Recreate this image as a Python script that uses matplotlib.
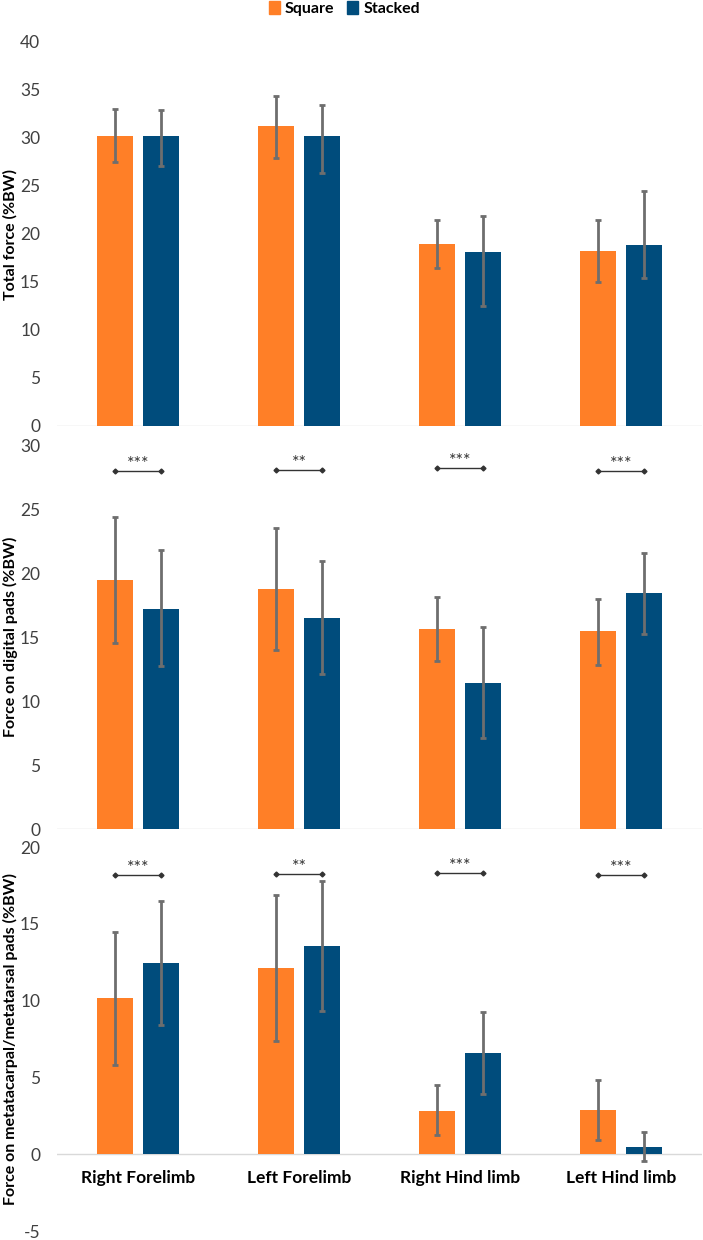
import numpy as np
from matplotlib import pyplot as plt
from matplotlib.patches import Patch

plt.rcParams['font.family'] = ['Lato', 'DejaVu Sans']
plt.rcParams['axes.unicode_minus'] = False

limbs = ['Right Forelimb', 'Left Forelimb', 'Right Hind limb', 'Left Hind limb']
groups = ['Square', 'Stacked']

# Total force (%BW)
total_square = [30.25, 31.2, 19.0, 18.25]
total_square_hi = [33.05, 34.4, 21.5, 21.5]
total_square_lo = [27.45, 27.95, 16.5, 15.0]
total_stacked = [30.2, 30.2, 18.1, 18.9]
total_stacked_hi = [32.95, 33.4, 21.85, 24.5]
total_stacked_lo = [27.05, 26.4, 12.5, 15.45]

# Force on digital pads (%BW)
digital_square = [19.45, 18.75, 15.6, 15.45]
digital_square_hi = [24.4, 23.5, 18.1, 18.0]
digital_square_lo = [14.55, 14.0, 13.1, 12.8]
digital_stacked = [17.2, 16.5, 11.4, 18.4]
digital_stacked_hi = [21.8, 20.9, 15.75, 21.6]
digital_stacked_lo = [12.7, 12.1, 7.1, 15.2]
digital_sig = ['***', '**', '***', '***']
digital_sig_y = [27.95, 28.05, 28.2, 27.95]

# Force on metacarpal/metatarsal pads (%BW)
meta_square = [10.15, 12.1, 2.8, 2.9]
meta_square_hi = [14.45, 16.9, 4.5, 4.85]
meta_square_lo = [5.8, 7.4, 1.25, 0.95]
meta_stacked = [12.45, 13.55, 6.6, 0.5]
meta_stacked_hi = [16.5, 17.8, 9.25, 1.45]
meta_stacked_lo = [8.4, 9.3, 3.95, -0.45]
meta_sig = ['***', '**', '***', '***']
meta_sig_y = [18.15, 18.25, 18.3, 18.15]

orange = '#FF7F27'
blue = '#004C7C'
err_color = '#6E6E6E'
tick_color = '#404040'

fig = plt.figure(figsize=(7.03, 12.4), dpi=100)

# axes boxes in figure fractions (left, bottom, width, height)
left = 57.5 / 703
width = 644 / 703
boxes = [
    (left, 1 - 426 / 1240, width, 384 / 1240),
    (left, 1 - 829 / 1240, width, 384 / 1240),
    (left, 1 - 1231 / 1240, width, 384 / 1240),
]

panels = [
    ('Total force (%BW)', (0, 40),
     total_square, total_square_lo, total_square_hi,
     total_stacked, total_stacked_lo, total_stacked_hi, None, None),
    ('Force on digital pads (%BW)', (0, 30),
     digital_square, digital_square_lo, digital_square_hi,
     digital_stacked, digital_stacked_lo, digital_stacked_hi, digital_sig, digital_sig_y),
    ('Force on metatacarpal/metatarsal pads (%BW)', (-5, 20),
     meta_square, meta_square_lo, meta_square_hi,
     meta_stacked, meta_stacked_lo, meta_stacked_hi, meta_sig, meta_sig_y),
]

x = np.arange(len(limbs))
bar_w = 0.228
offset = 0.1435

for k, (ylabel, ylim, sq, sq_lo, sq_hi, st, st_lo, st_hi, sig, sig_y) in enumerate(panels):
    ax = fig.add_axes(boxes[k])
    sq = np.array(sq)
    st = np.array(st)

    ax.bar(x - offset, sq, width=bar_w, color=orange, zorder=2)
    ax.bar(x + offset, st, width=bar_w, color=blue, zorder=2)

    # asymmetric error bars
    ax.errorbar(x - offset, sq, yerr=[sq - np.array(sq_lo), np.array(sq_hi) - sq],
                fmt='none', ecolor=err_color, elinewidth=2, capsize=2.5, capthick=2, zorder=3)
    ax.errorbar(x + offset, st, yerr=[st - np.array(st_lo), np.array(st_hi) - st],
                fmt='none', ecolor=err_color, elinewidth=2, capsize=2.5, capthick=2, zorder=3)

    ax.axhline(0, color='#D9D9D9', lw=1, zorder=1)

    # significance brackets
    if sig is not None:
        for i, (s, yy) in enumerate(zip(sig, sig_y)):
            ax.plot([i - 0.14, i + 0.14], [yy, yy], color='#333333', lw=1,
                    marker='D', markersize=2.5, zorder=4)
            ax.annotate(s, (i, yy), xytext=(0, -1), textcoords='offset pixels',
                        ha='center', va='bottom', fontsize=13, color='#333333')

    ax.set_xlim(-0.5, 3.5)
    ax.set_ylim(*ylim)
    ax.set_yticks(np.arange(ylim[0], ylim[1] + 1, 5))
    ax.tick_params(axis='y', length=0, pad=12.5, labelsize=12.5, labelcolor=tick_color)
    ax.set_xticks([])
    for side in ['top', 'right', 'bottom', 'left']:
        ax.spines[side].set_visible(False)

    ax.set_ylabel(ylabel, fontsize=11.5, fontweight='bold', color='black')
    ax.yaxis.set_label_coords(-0.062, 0.5)

    # category labels sit just under the zero line of the bottom panel
    if k == 2:
        for i, name in enumerate(limbs):
            ax.annotate(name, (i, 0), xytext=(0, -24), textcoords='offset pixels',
                        ha='center', va='center', fontsize=12.5, fontweight='bold')

handles = [Patch(color=orange, label=groups[0]), Patch(color=blue, label=groups[1])]
fig.legend(handles=handles, loc='upper center', bbox_to_anchor=(0.49, 1.011), ncol=2,
           frameon=False, handlelength=0.7, handleheight=0.9, handletextpad=0.3,
           columnspacing=0.8, prop={'weight': 'bold', 'size': 11.5})

plt.savefig('out.png', dpi=100)
